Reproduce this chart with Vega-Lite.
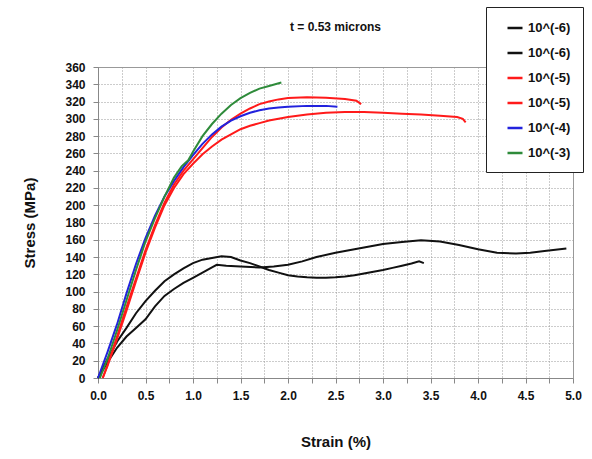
{
  "$schema": "https://vega.github.io/schema/vega-lite/v6.json",
  "autosize": {"type": "none"},
  "width": 475,
  "height": 311,
  "padding": {"left": 98, "top": 67, "right": 19, "bottom": 81},
  "background": "white",
  "title": {"text": "t = 0.53 microns", "font": "Liberation Sans", "fontSize": 12, "fontWeight": "bold", "color": "#111", "anchor": "middle", "offset": -27},
  "config": {
    "font": "Liberation Sans",
    "view": {"stroke": "#999", "strokeWidth": 1},
    "axis": {
      "labelFont": "Liberation Sans", "labelFontSize": 12, "labelFontWeight": "bold", "labelColor": "#111",
      "titleFont": "Liberation Sans", "titleFontSize": 15, "titleFontWeight": "bold", "titleColor": "#111",
      "domainColor": "#888", "tickColor": "#888", "tickSize": 5,
      "gridColor": "#999", "gridDash": [1, 2], "gridWidth": 1
    }
  },
  "data": {"values": [
    {"s":"10^(-6) A","x":0,"y":0},{"s":"10^(-6) A","x":0.1,"y":22},{"s":"10^(-6) A","x":0.2,"y":42},{"s":"10^(-6) A","x":0.3,"y":58},{"s":"10^(-6) A","x":0.4,"y":75},{"s":"10^(-6) A","x":0.5,"y":89},{"s":"10^(-6) A","x":0.6,"y":101},{"s":"10^(-6) A","x":0.7,"y":112},{"s":"10^(-6) A","x":0.8,"y":120},{"s":"10^(-6) A","x":0.9,"y":127},{"s":"10^(-6) A","x":1.0,"y":133},{"s":"10^(-6) A","x":1.1,"y":137},{"s":"10^(-6) A","x":1.2,"y":139},{"s":"10^(-6) A","x":1.3,"y":141},{"s":"10^(-6) A","x":1.4,"y":140},{"s":"10^(-6) A","x":1.5,"y":136},{"s":"10^(-6) A","x":1.6,"y":133},{"s":"10^(-6) A","x":1.7,"y":129},{"s":"10^(-6) A","x":1.8,"y":125},{"s":"10^(-6) A","x":1.9,"y":122},{"s":"10^(-6) A","x":2.0,"y":119},{"s":"10^(-6) A","x":2.1,"y":117.5},{"s":"10^(-6) A","x":2.2,"y":116.5},{"s":"10^(-6) A","x":2.3,"y":116},{"s":"10^(-6) A","x":2.4,"y":116},{"s":"10^(-6) A","x":2.5,"y":116.5},{"s":"10^(-6) A","x":2.6,"y":117.5},{"s":"10^(-6) A","x":2.7,"y":119},{"s":"10^(-6) A","x":2.8,"y":121},{"s":"10^(-6) A","x":2.9,"y":123},{"s":"10^(-6) A","x":3.0,"y":125},{"s":"10^(-6) A","x":3.1,"y":127.5},{"s":"10^(-6) A","x":3.2,"y":130},{"s":"10^(-6) A","x":3.3,"y":132.5},{"s":"10^(-6) A","x":3.38,"y":135},{"s":"10^(-6) A","x":3.43,"y":133},
    {"s":"10^(-6) B","x":0,"y":0},{"s":"10^(-6) B","x":0.1,"y":18},{"s":"10^(-6) B","x":0.2,"y":35},{"s":"10^(-6) B","x":0.3,"y":48},{"s":"10^(-6) B","x":0.4,"y":58},{"s":"10^(-6) B","x":0.5,"y":68},{"s":"10^(-6) B","x":0.6,"y":83},{"s":"10^(-6) B","x":0.7,"y":95},{"s":"10^(-6) B","x":0.8,"y":103},{"s":"10^(-6) B","x":0.9,"y":110},{"s":"10^(-6) B","x":1.0,"y":116},{"s":"10^(-6) B","x":1.1,"y":122},{"s":"10^(-6) B","x":1.2,"y":128},{"s":"10^(-6) B","x":1.25,"y":131},{"s":"10^(-6) B","x":1.35,"y":130},{"s":"10^(-6) B","x":1.5,"y":129},{"s":"10^(-6) B","x":1.7,"y":128},{"s":"10^(-6) B","x":1.85,"y":129},{"s":"10^(-6) B","x":2.0,"y":131},{"s":"10^(-6) B","x":2.15,"y":135},{"s":"10^(-6) B","x":2.3,"y":140},{"s":"10^(-6) B","x":2.5,"y":145},{"s":"10^(-6) B","x":2.8,"y":151},{"s":"10^(-6) B","x":3.0,"y":155},{"s":"10^(-6) B","x":3.2,"y":157.5},{"s":"10^(-6) B","x":3.4,"y":159.5},{"s":"10^(-6) B","x":3.6,"y":158},{"s":"10^(-6) B","x":3.8,"y":154},{"s":"10^(-6) B","x":4.0,"y":149},{"s":"10^(-6) B","x":4.2,"y":145},{"s":"10^(-6) B","x":4.4,"y":144},{"s":"10^(-6) B","x":4.55,"y":145},{"s":"10^(-6) B","x":4.7,"y":147},{"s":"10^(-6) B","x":4.93,"y":150},
    {"s":"10^(-5) A","x":0.05,"y":0},{"s":"10^(-5) A","x":0.1,"y":15},{"s":"10^(-5) A","x":0.2,"y":48},{"s":"10^(-5) A","x":0.3,"y":82},{"s":"10^(-5) A","x":0.4,"y":115},{"s":"10^(-5) A","x":0.5,"y":148},{"s":"10^(-5) A","x":0.6,"y":177},{"s":"10^(-5) A","x":0.7,"y":203},{"s":"10^(-5) A","x":0.8,"y":224},{"s":"10^(-5) A","x":0.9,"y":240},{"s":"10^(-5) A","x":1.0,"y":253},{"s":"10^(-5) A","x":1.1,"y":266},{"s":"10^(-5) A","x":1.2,"y":279},{"s":"10^(-5) A","x":1.3,"y":290},{"s":"10^(-5) A","x":1.4,"y":299},{"s":"10^(-5) A","x":1.5,"y":306},{"s":"10^(-5) A","x":1.6,"y":312},{"s":"10^(-5) A","x":1.7,"y":317},{"s":"10^(-5) A","x":1.8,"y":320},{"s":"10^(-5) A","x":1.9,"y":322.5},{"s":"10^(-5) A","x":2.0,"y":324},{"s":"10^(-5) A","x":2.2,"y":325},{"s":"10^(-5) A","x":2.4,"y":324.5},{"s":"10^(-5) A","x":2.6,"y":323},{"s":"10^(-5) A","x":2.72,"y":321},{"s":"10^(-5) A","x":2.77,"y":317},
    {"s":"10^(-5) B","x":0.05,"y":0},{"s":"10^(-5) B","x":0.1,"y":14},{"s":"10^(-5) B","x":0.2,"y":45},{"s":"10^(-5) B","x":0.3,"y":78},{"s":"10^(-5) B","x":0.4,"y":112},{"s":"10^(-5) B","x":0.5,"y":145},{"s":"10^(-5) B","x":0.6,"y":174},{"s":"10^(-5) B","x":0.7,"y":200},{"s":"10^(-5) B","x":0.8,"y":220},{"s":"10^(-5) B","x":0.9,"y":236},{"s":"10^(-5) B","x":1.0,"y":248},{"s":"10^(-5) B","x":1.1,"y":259},{"s":"10^(-5) B","x":1.2,"y":268},{"s":"10^(-5) B","x":1.3,"y":276},{"s":"10^(-5) B","x":1.4,"y":282},{"s":"10^(-5) B","x":1.5,"y":288},{"s":"10^(-5) B","x":1.6,"y":292},{"s":"10^(-5) B","x":1.7,"y":295},{"s":"10^(-5) B","x":1.8,"y":298},{"s":"10^(-5) B","x":1.9,"y":300},{"s":"10^(-5) B","x":2.0,"y":302},{"s":"10^(-5) B","x":2.2,"y":305},{"s":"10^(-5) B","x":2.4,"y":307},{"s":"10^(-5) B","x":2.6,"y":308},{"s":"10^(-5) B","x":2.8,"y":308},{"s":"10^(-5) B","x":3.0,"y":307},{"s":"10^(-5) B","x":3.2,"y":306},{"s":"10^(-5) B","x":3.4,"y":305},{"s":"10^(-5) B","x":3.6,"y":303.5},{"s":"10^(-5) B","x":3.78,"y":302},{"s":"10^(-5) B","x":3.84,"y":300},{"s":"10^(-5) B","x":3.87,"y":296},
    {"s":"10^(-4)","x":0.0,"y":0},{"s":"10^(-4)","x":0.1,"y":30},{"s":"10^(-4)","x":0.2,"y":62},{"s":"10^(-4)","x":0.3,"y":98},{"s":"10^(-4)","x":0.4,"y":132},{"s":"10^(-4)","x":0.5,"y":162},{"s":"10^(-4)","x":0.6,"y":188},{"s":"10^(-4)","x":0.7,"y":210},{"s":"10^(-4)","x":0.8,"y":228},{"s":"10^(-4)","x":0.9,"y":244},{"s":"10^(-4)","x":1.0,"y":258},{"s":"10^(-4)","x":1.1,"y":271},{"s":"10^(-4)","x":1.2,"y":282},{"s":"10^(-4)","x":1.3,"y":291},{"s":"10^(-4)","x":1.4,"y":298},{"s":"10^(-4)","x":1.5,"y":303},{"s":"10^(-4)","x":1.6,"y":307},{"s":"10^(-4)","x":1.7,"y":310},{"s":"10^(-4)","x":1.8,"y":312},{"s":"10^(-4)","x":1.9,"y":313},{"s":"10^(-4)","x":2.0,"y":314},{"s":"10^(-4)","x":2.2,"y":315},{"s":"10^(-4)","x":2.4,"y":315},{"s":"10^(-4)","x":2.52,"y":314},
    {"s":"10^(-3)","x":0.02,"y":0},{"s":"10^(-3)","x":0.1,"y":22},{"s":"10^(-3)","x":0.2,"y":55},{"s":"10^(-3)","x":0.3,"y":90},{"s":"10^(-3)","x":0.4,"y":125},{"s":"10^(-3)","x":0.5,"y":158},{"s":"10^(-3)","x":0.6,"y":185},{"s":"10^(-3)","x":0.7,"y":210},{"s":"10^(-3)","x":0.8,"y":232},{"s":"10^(-3)","x":0.88,"y":245},{"s":"10^(-3)","x":0.95,"y":252},{"s":"10^(-3)","x":1.0,"y":262},{"s":"10^(-3)","x":1.1,"y":280},{"s":"10^(-3)","x":1.2,"y":294},{"s":"10^(-3)","x":1.3,"y":306},{"s":"10^(-3)","x":1.4,"y":316},{"s":"10^(-3)","x":1.5,"y":324},{"s":"10^(-3)","x":1.6,"y":330},{"s":"10^(-3)","x":1.7,"y":335},{"s":"10^(-3)","x":1.8,"y":338},{"s":"10^(-3)","x":1.93,"y":342}
  ]},
  "mark": {"type": "line", "strokeWidth": 2},
  "encoding": {
    "x": {"field": "x", "type": "quantitative", "title": "Strain (%)",
      "scale": {"domain": [0, 5], "nice": false, "zero": false},
      "axis": {"values": [0,0.25,0.5,0.75,1,1.25,1.5,1.75,2,2.25,2.5,2.75,3,3.25,3.5,3.75,4,4.25,4.5,4.75,5],
        "labelExpr": "(datum.value*2) % 1 == 0 ? format(datum.value, '.1f') : ''",
        "labelPadding": 7, "titlePadding": 33, "labelFlush": false}},
    "y": {"field": "y", "type": "quantitative", "title": "Stress (MPa)",
      "scale": {"domain": [0, 360], "nice": false},
      "axis": {"values": [0,20,40,60,80,100,120,140,160,180,200,220,240,260,280,300,320,340,360],
        "labelPadding": 8, "titlePadding": 27}},
    "color": {"field": "s", "type": "nominal", "sort": null,
      "scale": {"domain": ["10^(-6) A","10^(-6) B","10^(-5) A","10^(-5) B","10^(-4)","10^(-3)"],
        "range": ["#111111","#111111","#ff1a1a","#ff1a1a","#2222dd","#2e8b3a"]},
      "legend": {"title": null, "orient": "none", "legendX": 388, "legendY": -60,
        "labelExpr": "split(datum.label, ' ')[0]",
        "symbolType": "stroke", "symbolSize": 225, "symbolStrokeWidth": 2.5, "symbolOffset": 8,
        "labelFont": "Liberation Sans", "labelFontSize": 13, "labelFontWeight": "bold", "labelColor": "#111",
        "labelOffset": 4, "rowPadding": 9, "padding": 12,
        "strokeColor": "#222", "fillColor": "white"}}
  }
}
